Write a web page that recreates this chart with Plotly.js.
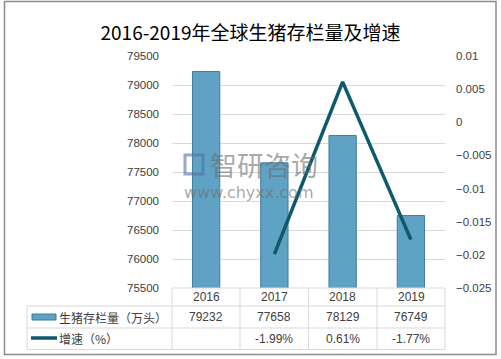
<!DOCTYPE html>
<html>
<head>
<meta charset="utf-8">
<script src="https://cdn.plot.ly/plotly-3.0.1.min.js"></script>
<style>
html,body{margin:0;padding:0;background:#fff;}
#chart{width:501px;height:359px;}
</style>
</head>
<body>
<div id="chart"></div>
<script>
var years = ['2016', '2017', '2018', '2019'];
var stock = [79232, 77658, 78129, 76749];
var growth = [null, -0.0199, 0.0061, -0.0177];
var growthLabels = ['', '-1.99%', '0.61%', '-1.77%'];
var seriesNames = ['生猪存栏量（万头）', '增速（%）'];
var chartTitle = '2016-2019年全球生猪存栏量及增速';

var W = 501, H = 359;
var L = 172, R = 445, T = 56, B = 288;
var font = 'Liberation Sans, Noto Sans CJK SC, sans-serif';
var cjk = 'Noto Sans CJK SC, sans-serif';
var txt = '#404040';
var barColor = '#5fa2c3';
var lineColor = '#0d5a6c';
var gridC = '#d9d9d9';

// convert page pixels to plot-domain paper coordinates
function px(x){ return (x - L) / (R - L); }
function py(y){ return (B - y) / (B - T); }

var traces = [
  {type:'bar', x:years, y:stock, width:0.4, name:seriesNames[0],
   marker:{color:barColor, line:{color:'#3f7d99', width:1}}, yaxis:'y', hoverinfo:'skip'},
  {type:'scatter', mode:'lines', x:years, y:growth, name:seriesNames[1],
   line:{color:lineColor, width:3.5}, yaxis:'y2', connectgaps:false, hoverinfo:'skip'}
];

var shapes = [];
var annotations = [];
function hline(x0,x1,y){ shapes.push({type:'line', xref:'paper', yref:'paper', x0:px(x0), x1:px(x1), y0:py(y), y1:py(y), line:{color:gridC, width:1}}); }
function vline(x,y0,y1){ shapes.push({type:'line', xref:'paper', yref:'paper', x0:px(x), x1:px(x), y0:py(y0), y1:py(y1), line:{color:gridC, width:1}}); }

// table grid
var colX = [172, 240, 308.5, 377, 445];
hline(172, 445, 288);
hline(27, 445, 306);
hline(27, 445, 328);
hline(27, 445, 349.5);
vline(27, 306, 349.5);
colX.forEach(function(x){ vline(x, 288, 349.5); });

// table texts
for (var i = 0; i < years.length; i++) {
  var cx = (colX[i] + colX[i+1]) / 2;
  annotations.push({xref:'paper', yref:'paper', x:px(cx), y:py(297), text:years[i], showarrow:false, font:{family:font, size:12, color:txt}, xanchor:'center', yanchor:'middle'});
  annotations.push({xref:'paper', yref:'paper', x:px(cx), y:py(317), text:String(stock[i]), showarrow:false, font:{family:font, size:12, color:txt}, xanchor:'center', yanchor:'middle'});
  if (growthLabels[i]) annotations.push({xref:'paper', yref:'paper', x:px(cx), y:py(339), text:growthLabels[i], showarrow:false, font:{family:font, size:12, color:txt}, xanchor:'center', yanchor:'middle'});
}
// legend keys in table
shapes.push({type:'rect', xref:'paper', yref:'paper', x0:px(32), x1:px(56), y0:py(314), y1:py(320), fillcolor:barColor, line:{color:'#3f7d99', width:1}});
shapes.push({type:'line', xref:'paper', yref:'paper', x0:px(31), x1:px(57), y0:py(338), y1:py(338), line:{color:lineColor, width:3.5}});
annotations.push({xref:'paper', yref:'paper', x:px(57), y:py(317), text:seriesNames[0], showarrow:false, font:{family:cjk, size:12, color:txt}, xanchor:'left', yanchor:'middle'});
annotations.push({xref:'paper', yref:'paper', x:px(57), y:py(338), text:seriesNames[1], showarrow:false, font:{family:cjk, size:12, color:txt}, xanchor:'left', yanchor:'middle'});

// outer border
shapes.push({type:'rect', xref:'paper', yref:'paper', x0:px(4.5), x1:px(496), y0:py(1.5), y1:py(354.5), line:{color:'#8c8c8c', width:1.5}, fillcolor:'rgba(0,0,0,0)'});

// watermark
annotations.push({xref:'paper', yref:'paper', x:px(208), y:py(164), text:'智研咨询', showarrow:false, font:{family:cjk, size:27, color:'rgba(110,110,110,0.6)'}, xanchor:'left', yanchor:'middle'});
annotations.push({xref:'paper', yref:'paper', x:px(182), y:py(192), text:'www.chyxx.com', showarrow:false, font:{family:'DejaVu Sans, sans-serif', size:16, color:'rgba(110,110,110,0.6)'}, xanchor:'left', yanchor:'middle'});
shapes.push({type:'rect', xref:'paper', yref:'paper', x0:px(185), x1:px(203), y0:py(155), y1:py(174), line:{color:'rgba(80,110,170,0.6)', width:3}, fillcolor:'rgba(0,0,0,0)'});

var layout = {
  width:W, height:H,
  margin:{l:L, r:W-R, t:T, b:H-B, pad:0},
  paper_bgcolor:'#fff', plot_bgcolor:'#fff',
  showlegend:false,
  title:{text:chartTitle, x:0.5, xanchor:'center', xref:'container', yref:'container', y:1-33/H, yanchor:'middle', font:{family:cjk, size:19, color:'#000'}},
  xaxis:{type:'category', showticklabels:false, showgrid:false, zeroline:false, showline:false, ticks:''},
  yaxis:{range:[75500, 79500], dtick:500, tick0:75500, tickformat:'d', showgrid:true, gridcolor:gridC, gridwidth:1, zeroline:false, showline:false,
         tickfont:{family:font, size:11.5, color:txt}, ticks:'', ticklabelstandoff:12},
  yaxis2:{overlaying:'y', side:'right', range:[-0.025, 0.01], dtick:0.005, tick0:-0.025, showgrid:false, zeroline:false, showline:false,
          tickfont:{family:font, size:11.5, color:txt}, ticks:'', ticklabelstandoff:10, tickformat:'~g'},
  bargap:0.6,
  shapes:shapes,
  annotations:annotations
};

Plotly.newPlot('chart', traces, layout, {staticPlot:true, displayModeBar:false});
</script>
</body>
</html>
